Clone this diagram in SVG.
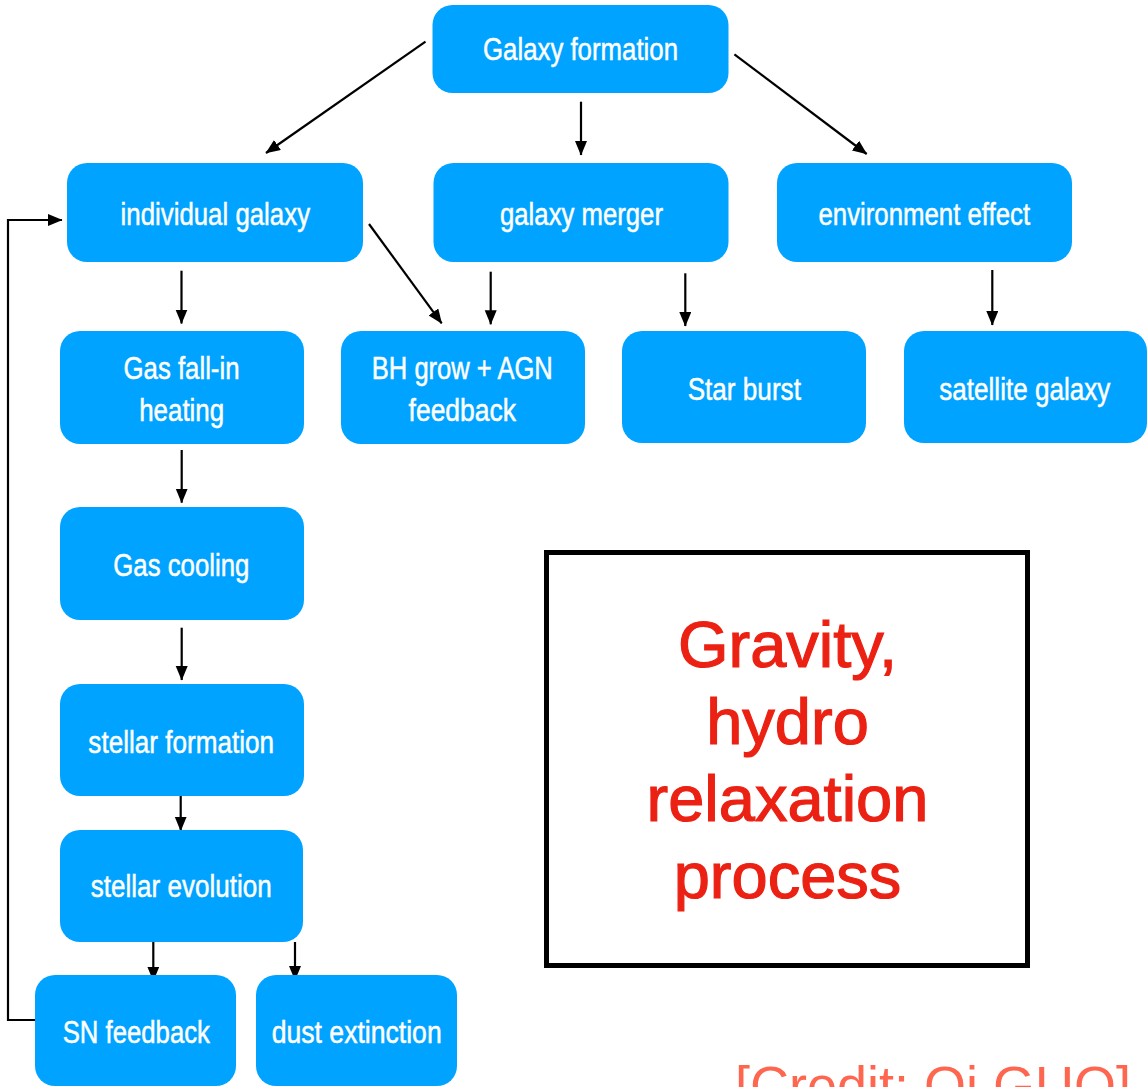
<svg xmlns="http://www.w3.org/2000/svg" width="1148" height="1087" viewBox="0 0 1148 1087">
  <defs>
    <style>
      .node rect { fill: #00A3FF; }
      .node text { fill: #FFFFFF; stroke: #FFFFFF; stroke-width: 0.5; font-family: "Liberation Sans", Arial, sans-serif; font-size: 31px; text-anchor: middle; }
      .conn { stroke: #000000; stroke-width: 2.2; fill: none; }
      .note { fill: #EB2113; stroke: #EB2113; stroke-width: 1.2; font-family: "Liberation Sans", Arial, sans-serif; font-size: 65px; text-anchor: middle; }
      .credit { fill: #FF6650; font-family: "Liberation Sans", Arial, sans-serif; font-size: 54px; }
    </style>
    <marker id="arrow" markerUnits="userSpaceOnUse" markerWidth="16" markerHeight="13" refX="14" refY="6" orient="auto">
      <path d="M0,0 L14.5,6 L0,12 z" fill="#000000"/>
    </marker>
  </defs>

  <rect width="1148" height="1087" fill="#FFFFFF"/>

  <!-- connectors -->
  <g id="connectors">
    <line class="conn" x1="425.5" y1="41.7" x2="266" y2="153" marker-end="url(#arrow)"/>
    <line class="conn" x1="581" y1="101.7" x2="581" y2="155" marker-end="url(#arrow)"/>
    <line class="conn" x1="734.4" y1="54.3" x2="866.7" y2="154" marker-end="url(#arrow)"/>
    <line class="conn" x1="181.5" y1="270.7" x2="181.5" y2="323.5" marker-end="url(#arrow)"/>
    <line class="conn" x1="369" y1="224" x2="441.7" y2="323.3" marker-end="url(#arrow)"/>
    <line class="conn" x1="490.7" y1="271.7" x2="490.7" y2="324.3" marker-end="url(#arrow)"/>
    <line class="conn" x1="685.3" y1="273.3" x2="685.3" y2="326" marker-end="url(#arrow)"/>
    <line class="conn" x1="992.3" y1="270" x2="992.3" y2="325" marker-end="url(#arrow)"/>
    <line class="conn" x1="181.7" y1="450" x2="181.7" y2="502.7" marker-end="url(#arrow)"/>
    <line class="conn" x1="181.7" y1="627.7" x2="181.7" y2="680" marker-end="url(#arrow)"/>
    <line class="conn" x1="180.7" y1="792" x2="180.7" y2="830.7" marker-end="url(#arrow)"/>
    <line class="conn" x1="153.3" y1="942" x2="153.3" y2="980.7" marker-end="url(#arrow)"/>
    <line class="conn" x1="295" y1="942" x2="295" y2="980" marker-end="url(#arrow)"/>
    <polyline class="conn" points="35,1020 8,1020 8,220 62,220" marker-end="url(#arrow)"/>
  </g>

  <!-- nodes -->
  <g id="galaxy-formation" class="node">
    <rect x="432.5" y="5" width="296" height="88" rx="20"/>
    <text x="580.5" y="60" textLength="195" lengthAdjust="spacingAndGlyphs">Galaxy formation</text>
  </g>
  <g id="individual-galaxy" class="node">
    <rect x="67" y="163" width="296" height="99" rx="20"/>
    <text x="215.3" y="225" textLength="189.5" lengthAdjust="spacingAndGlyphs">individual galaxy</text>
  </g>
  <g id="galaxy-merger" class="node">
    <rect x="433.5" y="163" width="295" height="99" rx="20"/>
    <text x="581.5" y="225" textLength="163" lengthAdjust="spacingAndGlyphs">galaxy merger</text>
  </g>
  <g id="environment-effect" class="node">
    <rect x="777" y="163" width="295" height="99" rx="20"/>
    <text x="924.3" y="225" textLength="211.7" lengthAdjust="spacingAndGlyphs">environment effect</text>
  </g>
  <g id="gas-fall-in" class="node">
    <rect x="60" y="331" width="244" height="113" rx="20"/>
    <text x="181.5" y="379" textLength="116" lengthAdjust="spacingAndGlyphs">Gas fall-in</text>
    <text x="181.7" y="421" textLength="85" lengthAdjust="spacingAndGlyphs">heating</text>
  </g>
  <g id="bh-grow" class="node">
    <rect x="341" y="331" width="244" height="113" rx="20"/>
    <text x="462.3" y="379" textLength="181" lengthAdjust="spacingAndGlyphs">BH grow + AGN</text>
    <text x="462.3" y="421" textLength="107.5" lengthAdjust="spacingAndGlyphs">feedback</text>
  </g>
  <g id="star-burst" class="node">
    <rect x="622" y="331" width="244" height="112" rx="20"/>
    <text x="744.3" y="400" textLength="113.3" lengthAdjust="spacingAndGlyphs">Star burst</text>
  </g>
  <g id="satellite-galaxy" class="node">
    <rect x="904" y="331" width="243" height="112" rx="20"/>
    <text x="1024.8" y="400" textLength="171" lengthAdjust="spacingAndGlyphs">satellite galaxy</text>
  </g>
  <g id="gas-cooling" class="node">
    <rect x="60" y="507" width="244" height="113" rx="20"/>
    <text x="181.3" y="575.5" textLength="136" lengthAdjust="spacingAndGlyphs">Gas cooling</text>
  </g>
  <g id="stellar-formation" class="node">
    <rect x="60" y="684" width="244" height="112" rx="20"/>
    <text x="181.2" y="752.5" textLength="185.7" lengthAdjust="spacingAndGlyphs">stellar formation</text>
  </g>
  <g id="stellar-evolution" class="node">
    <rect x="60" y="830" width="243" height="112" rx="20"/>
    <text x="181.2" y="897" textLength="181" lengthAdjust="spacingAndGlyphs">stellar evolution</text>
  </g>
  <g id="sn-feedback" class="node">
    <rect x="35" y="975" width="201" height="111" rx="20"/>
    <text x="136.3" y="1043" textLength="147.3" lengthAdjust="spacingAndGlyphs">SN feedback</text>
  </g>
  <g id="dust-extinction" class="node">
    <rect x="256" y="975" width="201" height="111" rx="20"/>
    <text x="356.7" y="1043" textLength="170" lengthAdjust="spacingAndGlyphs">dust extinction</text>
  </g>

  <!-- framed note -->
  <g id="physics-note">
    <rect x="546.5" y="552.5" width="481" height="413" fill="none" stroke="#000000" stroke-width="5"/>
    <text class="note" x="787.5" y="667">Gravity,</text>
    <text class="note" x="787.5" y="744">hydro</text>
    <text class="note" x="787.5" y="821">relaxation</text>
    <text class="note" x="787.5" y="898">process</text>
  </g>

  <!-- credit line, running off the lower edge -->
  <text class="credit" x="735" y="1104">[Credit: Qi GUO]</text>
</svg>
